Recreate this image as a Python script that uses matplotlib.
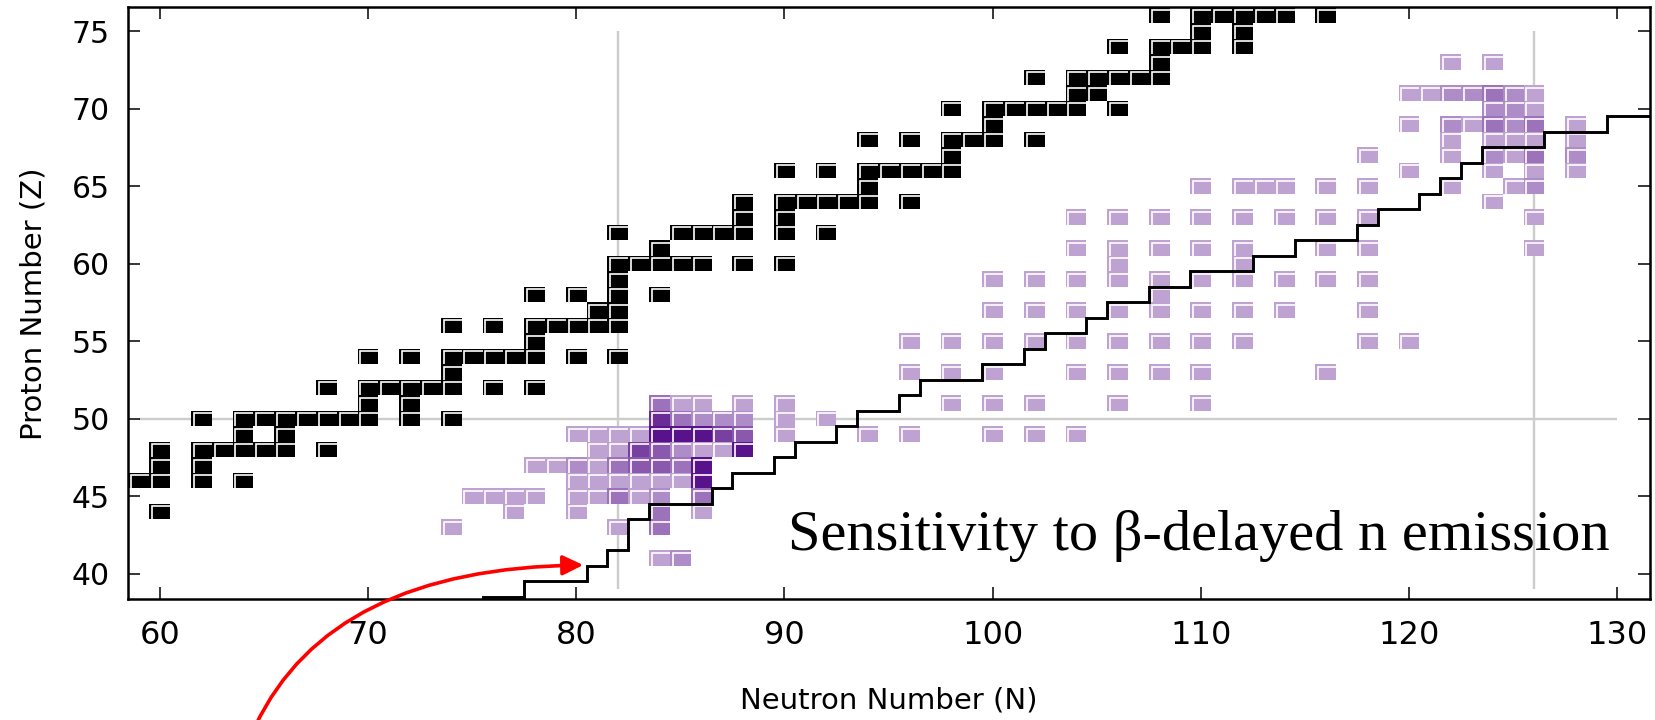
import matplotlib
matplotlib.use("Agg")
import matplotlib.pyplot as plt
from matplotlib.patches import Rectangle, FancyArrowPatch
from matplotlib.collections import PatchCollection, LineCollection
from matplotlib.path import Path

# ---------------------------------------------------------------------------
# Stable / long-lived nuclei (black squares): proton number and neutron numbers
# ---------------------------------------------------------------------------
stable_Z = [44, 46, 47, 48, 49, 50, 51, 52, 53, 54, 55, 56, 57, 58, 59, 60,
            61, 62, 63, 64, 65, 66, 67, 68, 69, 70, 71, 72, 73, 74, 75, 76]
stable_N = [
    [60],
    [59, 60, 62, 64],
    [60, 62],
    [60, 62, 63, 64, 65, 66, 68],
    [64, 66],
    [62, 64, 65, 66, 67, 68, 69, 70, 72, 74],
    [70, 72],
    [68, 70, 71, 72, 73, 74, 76, 78],
    [74],
    [70, 72, 74, 75, 76, 77, 78, 80, 82],
    [78],
    [74, 76, 78, 79, 80, 81, 82],
    [81, 82],
    [78, 80, 82, 84],
    [82],
    [82, 83, 84, 85, 86, 88, 90],
    [84],
    [82, 85, 86, 87, 88, 90, 92],
    [88, 90],
    [88, 90, 91, 92, 93, 94, 96],
    [94],
    [90, 92, 94, 95, 96, 97, 98],
    [98],
    [94, 96, 98, 99, 100, 102],
    [100],
    [98, 100, 101, 102, 103, 104, 106],
    [104, 105],
    [102, 104, 105, 106, 107, 108],
    [108],
    [106, 108, 109, 110, 112],
    [110, 112],
    [108, 110, 111, 112, 113, 114, 116],
]

# ---------------------------------------------------------------------------
# Nuclei whose beta-delayed neutron emission matters (purple squares):
# proton number, neutron numbers and sensitivity level (1 = weak, 7 = strong)
# ---------------------------------------------------------------------------
sens_Z = [41, 43, 44, 45, 46, 47, 48, 49, 50, 51, 53, 55, 57, 58, 59, 60,
          61, 63, 64, 65, 66, 67, 68, 69, 70, 71, 73]
sens_N = [
    [84, 85],
    [74, 82, 84],
    [77, 80, 84, 86],
    [75, 76, 77, 78, 80, 81, 82, 83, 84, 86],
    [80, 81, 82, 83, 84, 85, 86],
    [78, 79, 80, 81, 82, 83, 84, 85, 86],
    [81, 82, 83, 84, 85, 86, 87, 88],
    [80, 81, 82, 83, 84, 85, 86, 87, 88, 90, 94, 96, 100, 102, 104],
    [84, 85, 86, 87, 88, 90, 92],
    [84, 85, 86, 88, 90, 98, 100, 102, 106, 110],
    [96, 98, 100, 104, 106, 108, 110, 116],
    [96, 98, 100, 102, 104, 106, 108, 110, 112, 118, 120],
    [100, 102, 104, 106, 108, 110, 112, 114, 118],
    [108],
    [100, 102, 104, 106, 108, 110, 112, 114, 116, 118],
    [106, 112],
    [104, 106, 108, 110, 112, 116, 118, 126],
    [104, 106, 108, 110, 112, 114, 116, 118, 126],
    [124],
    [110, 112, 113, 114, 116, 118, 122, 125, 126],
    [120, 124, 126, 128],
    [118, 122, 124, 125, 126, 128],
    [122, 124, 125, 126, 128],
    [120, 122, 123, 124, 125, 126, 128],
    [124, 125, 126],
    [120, 121, 122, 123, 124, 125, 126],
    [122, 124],
]
sens_level = [
    [1, 2],
    [1, 1, 3],
    [1, 1, 3, 1],
    [1, 1, 1, 1, 1, 1, 3, 1, 2, 3],
    [1, 1, 1, 1, 1, 1, 7],
    [1, 1, 2, 1, 3, 4, 4, 3, 7],
    [1, 1, 5, 4, 2, 1, 1, 7],
    [1, 1, 1, 1, 7, 7, 7, 5, 4, 1, 1, 1, 1, 1, 1],
    [6, 3, 2, 2, 2, 1, 1],
    [3, 1, 1, 1, 1, 1, 1, 1, 1, 1],
    [1, 1, 1, 1, 1, 1, 1, 1],
    [1, 1, 1, 1, 1, 1, 1, 1, 1, 1, 1],
    [1, 1, 1, 1, 1, 1, 1, 1, 1],
    [1],
    [1, 1, 1, 1, 1, 1, 1, 1, 1, 1],
    [1, 1],
    [1, 1, 1, 1, 1, 1, 1, 1],
    [1, 1, 1, 1, 1, 1, 1, 1, 1],
    [1],
    [1, 1, 1, 1, 1, 1, 1, 1, 2],
    [1, 1, 1, 1],
    [1, 1, 2, 1, 3, 2],
    [1, 1, 1, 1, 1],
    [1, 2, 1, 3, 2, 3, 1],
    [2, 2, 1],
    [1, 1, 2, 2, 3, 2, 1],
    [1, 1],
]

# r-process path (cell boundaries, drawn as a staircase)
path_N = [75.5, 77.5, 80.5, 81.5, 82.5, 83.5, 86.5, 87.5, 89.5, 90.5, 92.5,
          93.5, 95.5, 96.5, 99.5, 101.5, 102.5, 104.5, 105.5, 107.5, 109.5,
          112.5, 114.5, 117.5, 118.5, 120.5, 121.5, 122.5, 123.5, 126.5,
          129.5, 132.5]
path_Z = [38.5, 39.5, 40.5, 41.5, 43.5, 44.5, 45.5, 46.5, 47.5, 48.5, 49.5,
          50.5, 51.5, 52.5, 53.5, 54.5, 55.5, 56.5, 57.5, 58.5, 59.5,
          60.5, 61.5, 62.5, 63.5, 64.5, 65.5, 66.5, 67.5, 68.5,
          69.5, 69.5]

# closed shells
magic_N = [82, 126]
magic_Z = [50]

x_ticks = [60, 70, 80, 90, 100, 110, 120, 130]
y_ticks = [40, 45, 50, 55, 60, 65, 70, 75]

# ---------------------------------------------------------------------------
W, H = 1655, 720
fig = plt.figure(figsize=(W / 100, H / 100), dpi=100)
ax = fig.add_axes([127.9 / W, 1 - 599.3 / H, (1650 - 127.9) / W, (599.3 - 7.3) / H])
ax.set_xlim(58.47, 131.57)
ax.set_ylim(38.34, 76.53)

# closed-shell guide lines
for n in magic_N:
    ax.plot([n, n], [39, 75], color="#cccccc", lw=1.7, zorder=1, solid_capstyle="butt")
for z in magic_Z:
    ax.plot([59, 130], [z, z], color="#cccccc", lw=1.7, zorder=1, solid_capstyle="butt")

INDIGO = (75 / 255, 0.0, 130 / 255)
LEVEL_ALPHA = {1: 0.36, 2: 0.45, 3: 0.55, 4: 0.65, 5: 0.75, 6: 0.83, 7: 0.93}


def level_color(level):
    a = LEVEL_ALPHA[level]
    return tuple(1 - a * (1 - c) for c in INDIGO)


def draw_cells(ns, zs, colors, z0):
    rects = [Rectangle((n - 0.5, z - 0.5), 1, 1) for n, z in zip(ns, zs)]
    ax.add_collection(PatchCollection(rects, facecolors=colors, edgecolors="none",
                                      linewidths=0, zorder=z0))
    dx, dy = 0.135, 0.16
    segs = [[(n - 0.5 + dx, z - 0.5), (n - 0.5 + dx, z + 0.5 - dy), (n + 0.5, z + 0.5 - dy)]
            for n, z in zip(ns, zs)]
    ax.add_collection(LineCollection(segs, colors="white", linewidths=1.2,
                                     capstyle="butt", joinstyle="miter", zorder=z0 + 0.1))


# purple sensitivity cells
pn, pz, pc = [], [], []
for z, ns, lv in zip(sens_Z, sens_N, sens_level):
    for n, l in zip(ns, lv):
        pn.append(n)
        pz.append(z)
        pc.append(level_color(l))
draw_cells(pn, pz, pc, 2)

# black stable cells
bn, bz = [], []
for z, ns in zip(stable_Z, stable_N):
    for n in ns:
        bn.append(n)
        bz.append(z)
draw_cells(bn, bz, ["black"] * len(bn), 3)

# r-process path
ax.plot(path_N, path_Z, drawstyle="steps-post", color="black", lw=2.1, zorder=5,
        solid_joinstyle="miter")

# axes styling
for s in ax.spines.values():
    s.set_linewidth(1.8)
ax.set_xticks(x_ticks)
ax.set_yticks(y_ticks)
ax.tick_params(direction="in", length=8.5, width=1.1, top=True, right=True)
ax.tick_params(axis="x", labelsize=23, pad=15)
ax.tick_params(axis="y", labelsize=21.5, pad=13)
ax.set_xlabel("Neutron Number (N)", fontsize=21)
ax.set_ylabel("Proton Number (Z)", fontsize=21)
ax.xaxis.set_label_coords(0.5, -0.148)
ax.yaxis.set_label_coords(-0.0525, 0.5)

fig.text(788 / W, 1 - 550 / H, "Sensitivity to \u03b2-delayed n emission",
         fontsize=42, family="Liberation Serif", ha="left", va="baseline", zorder=6)

# pointer to the start of the path
arrow_path = Path([(64.6, 30.2), (68.2, 40.35), (80.34, 40.55)],
                  [Path.MOVETO, Path.CURVE3, Path.CURVE3])
arrow = FancyArrowPatch(path=arrow_path, arrowstyle="-|>,head_length=0.62,head_width=0.3",
                        mutation_scale=20, color="red", lw=2.6,
                        transform=ax.transData, clip_on=False, zorder=7)
ax.add_artist(arrow)

fig.savefig("out.png", dpi=100)
